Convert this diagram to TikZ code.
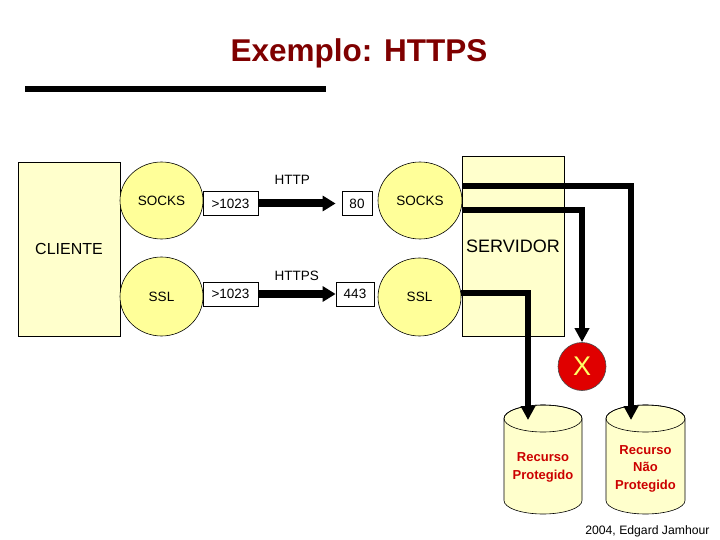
\documentclass[tikz,border=0pt]{standalone}
\usepackage{fontspec}
\setmainfont{Liberation Sans}
\usetikzlibrary{shapes.geometric,arrows.meta,calc}
\definecolor{paleyellow}{HTML}{FFFFCC}
\definecolor{ballyellow}{HTML}{FFFF99}
\definecolor{titlered}{HTML}{7F0000}
\definecolor{resred}{HTML}{CC0000}
\definecolor{xred}{HTML}{E00000}
\definecolor{xyellow}{HTML}{FFFF66}
\begin{document}
\begin{tikzpicture}[x=1pt,y=-1pt,
 hostbox/.style={draw=black, line width=0.6pt, fill=paleyellow, inner sep=0pt},
 proto/.style={ellipse, draw=black, line width=0.6pt, fill=ballyellow, inner sep=0pt, font=\fontsize{13.5}{15}\selectfont},
 portbox/.style={draw=black, line width=0.8pt, fill=white, inner sep=0pt, minimum height=24pt, font=\fontsize{13.5}{15}\selectfont},
 flowarrow/.style={line width=8pt, -{Triangle[width=15pt,length=13pt]}},
 pathline/.style={line width=6pt, -{Triangle[width=14pt,length=14pt]}},
 lbl/.style={font=\fontsize{13.5}{15}\selectfont},
 cylbody/.style={draw=black, line width=0.6pt, fill=paleyellow},
 restext/.style={align=center, text=resred, font=\bfseries\fontsize{13}{17.5}\selectfont}
]
\useasboundingbox (0,0) rectangle (720,540);

% title and rule
\node[anchor=base, text=titlered, font=\bfseries\fontsize{31.5}{36}\selectfont] (title) at (359,62) {Exemplo: HTTPS};
\coordinate (ruleA) at (25,89.5);
\coordinate (ruleB) at (326,89.5);
\draw[line width=6pt] (ruleA) -- (ruleB);

% hosts
\node[hostbox, minimum width=102pt, minimum height=174pt, font=\fontsize{16}{18}\selectfont] (cliente) at (69,249) {CLIENTE};
\node[hostbox, minimum width=102pt, minimum height=180pt, font=\fontsize{18}{20}\selectfont] (servidor) at (513,246) {SERVIDOR};

% protocol ellipses
\node[proto, minimum width=83pt, minimum height=77pt] (csock) at (161.5,200.5) {SOCKS};
\node[proto, minimum width=83pt, minimum height=79pt] (cssl) at (161.5,296.5) {SSL};
\node[proto, minimum width=84pt, minimum height=77pt] (ssock) at (420,200.5) {SOCKS};
\node[proto, minimum width=83pt, minimum height=78pt] (sssl) at (419.5,297) {SSL};

% ports
\node[portbox, minimum width=55pt] (p1) at (230.5,203.5) {>1023};
\node[portbox, minimum width=55pt] (p2) at (230.5,294) {>1023};
\node[portbox, minimum width=30pt] (p80) at (357,203.5) {80};
\node[portbox, minimum width=38pt] (p443) at (355,294) {443};

\node[lbl, anchor=west] (httplbl) at (271,180) {HTTP};
\node[lbl, anchor=west] (httpslbl) at (271,276) {HTTPS};

\draw[flowarrow] (p1.east) -- ([xshift=-6pt]p80.west);
\draw[flowarrow] (p2.east) -- (p443.west);

% cylinders
\draw[cylbody] (504,418.5) -- (504,500.5) arc[start angle=180,end angle=360,x radius=39pt,y radius=13.5pt] -- (582,418.5) arc[start angle=0,end angle=180,x radius=39pt,y radius=13.5pt] -- cycle;
\draw[line width=0.6pt] (543,418.5) ellipse [x radius=39pt, y radius=13.5pt];
\draw[cylbody] (606,418.5) -- (606,500.5) arc[start angle=180,end angle=360,x radius=39.5pt,y radius=13.5pt] -- (685,418.5) arc[start angle=0,end angle=180,x radius=39.5pt,y radius=13.5pt] -- cycle;
\draw[line width=0.6pt] (645.5,418.5) ellipse [x radius=39.5pt, y radius=13.5pt];
\node[restext] (cyl1) at (543,467.5) {Recurso\\Protegido};
\node[restext] (cyl2) at (645.5,468.5) {Recurso\\Não\\Protegido};
\coordinate (t1) at (528,420);
\coordinate (t2) at (631,420);

% X mark
\node[circle, draw=black!70, line width=0.6pt, fill=xred, minimum size=48pt, inner sep=0pt, text=xyellow, font=\fontsize{27}{30}\selectfont] (xmark) at (582,366.5) {X};

% server paths
\draw[pathline] ([yshift=14.5pt]ssock.east) -| (t2);
\draw[pathline] ([yshift=-9.5pt]ssock.east) -| (xmark.north);
\draw[pathline] ([yshift=4pt]sssl.east) -| (t1);

% credit
\node[anchor=base east, font=\fontsize{12.2}{14}\selectfont] (credit) at (713,534) {2004, Edgard Jamhour};
\end{tikzpicture}
\end{document}
